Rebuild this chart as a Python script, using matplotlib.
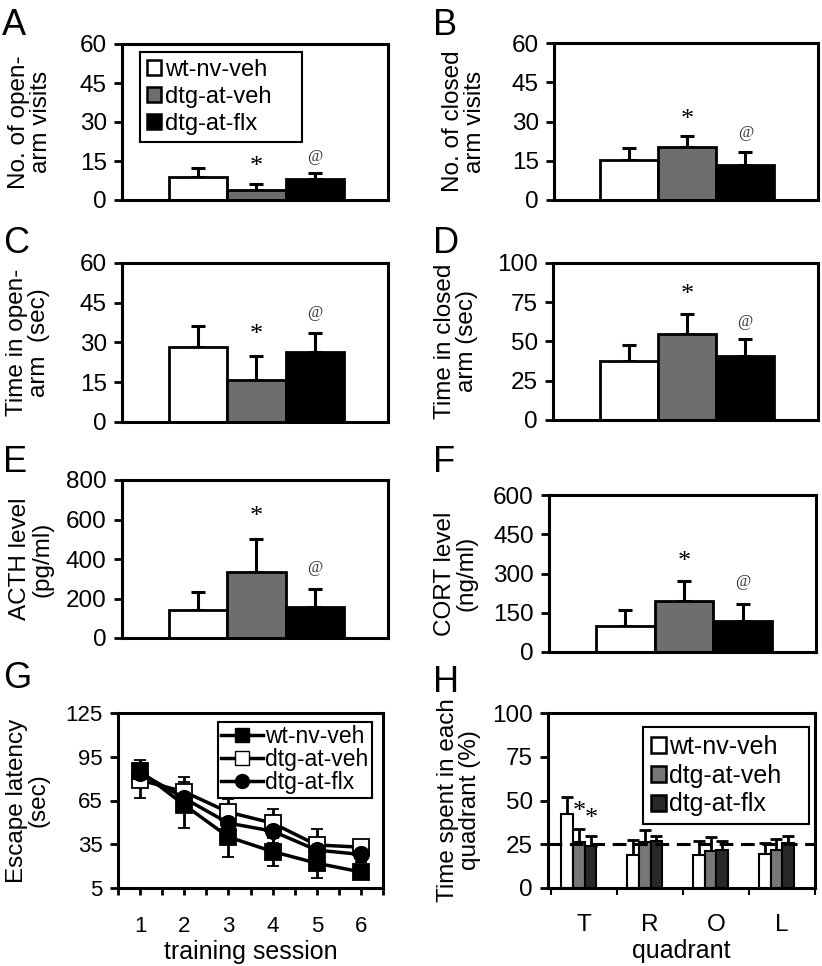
import matplotlib.pyplot as plt
from matplotlib.patches import Patch
from matplotlib.lines import Line2D
import numpy as np

plt.rcParams['font.family'] = ['Liberation Sans', 'DejaVu Sans']

groups = ['wt-nv-veh', 'dtg-at-veh', 'dtg-at-flx']
bar_colors = ['white', '#6e6e6e', 'black']

# A-F: elevated plus maze and hormone levels (mean, upper SEM)
open_visits = [9.0, 3.9, 8.0]
open_visits_err = [3.2, 2.3, 2.4]
closed_visits = [15.1, 20.4, 13.4]
closed_visits_err = [4.7, 4.1, 5.1]
open_time = [28.2, 16.0, 26.3]
open_time_err = [8.0, 8.9, 7.2]
closed_time = [37.7, 54.7, 40.7]
closed_time_err = [10.0, 12.7, 10.6]
acth = [140, 332, 157]
acth_err = [91, 170, 90]
cort = [100, 193, 117]
cort_err = [61, 79, 66]

# G: escape latency per training session
sessions = [1, 2, 3, 4, 5, 6]
lat_wt = [85, 62, 40, 30, 22, 16]
lat_wt_err = [8, 16, 14, 10, 10, 5]
lat_veh = [79, 71, 57, 49.5, 34.5, 33]
lat_veh_err = [12, 10, 9, 10, 11, 5]
lat_flx = [84, 66.5, 49.5, 44, 31, 28]
lat_flx_err = [7, 8, 8, 8, 8, 5]

# H: probe trial, time per quadrant
quadrants = ['T', 'R', 'O', 'L']
quad_wt = [42.5, 19, 19, 19.5]
quad_wt_err = [9.5, 8.5, 8, 6.5]
quad_veh = [26.5, 26.5, 21, 21.5]
quad_veh_err = [7.5, 6.5, 8, 6.5]
quad_flx = [24, 27, 21.5, 25.5]
quad_flx_err = [6, 3, 5.5, 4.5]
chance = 25

W, H = 822, 966
fig = plt.figure(figsize=(W / 100, H / 100), dpi=100)


def rect(x0, x1, y0, y1):
    # pixel box (top y0, bottom y1) -> figure fraction
    return [x0 / W, 1 - y1 / H, (x1 - x0) / W, (y1 - y0) / H]


def style_axes(ax, labelsize=17.5):
    for s in ax.spines.values():
        s.set_linewidth(2.2)
    ax.tick_params(axis='y', direction='out', length=6, width=2,
                   labelsize=labelsize, pad=5)


def boxed_legend(ax, handles, anchor, fontsize, **kw):
    leg = ax.legend(handles=handles, loc='upper left', bbox_to_anchor=anchor,
                    mode='expand', fontsize=fontsize, frameon=True,
                    fancybox=False, edgecolor='black', framealpha=1,
                    borderaxespad=0, **kw)
    leg.get_frame().set_linewidth(1.5)
    return leg


def bar_panel(box, vals, errs, ylim, yticks, ylabel, star_y, at_y, labelx):
    ax = fig.add_axes(rect(*box))
    x = np.arange(3)
    ax.errorbar(x, vals, yerr=[np.zeros(3), errs], fmt='none', ecolor='black',
                elinewidth=2.2, capsize=5, capthick=2.2, zorder=1)
    ax.bar(x, vals, width=1.0, color=bar_colors, edgecolor='black',
           linewidth=2, zorder=2)
    ax.set_xlim(-1.3, 3.25)
    ax.set_ylim(*ylim)
    ax.set_yticks(yticks)
    ax.set_xticks([])
    style_axes(ax)
    ax.set_ylabel(ylabel, fontsize=17.5, linespacing=1.0)
    ax.yaxis.set_label_coords(labelx, 0.5)
    ax.text(1, star_y, '*', family='Liberation Serif', fontsize=19,
            ha='center', va='center')
    ax.text(2, at_y, '@', family='Liberation Serif', fontsize=12,
            ha='center', va='center', color='#333333')
    return ax


axA = bar_panel((122, 388, 44, 200), open_visits, open_visits_err, (0, 60),
                [0, 15, 30, 45, 60], 'No. of open-\narm visits', 12.7, 16.5, -0.263)
boxed_legend(axA, [Patch(facecolor=c, edgecolor='black', linewidth=1.8, label=g)
                   for c, g in zip(bar_colors, groups)],
             (0.068, 0.41, 0.609, 0.54), 17,
             handlelength=0.6, handleheight=0.6, handletextpad=0.15,
             labelspacing=0.22, borderpad=0.3)

bar_panel((554, 818, 43, 200), closed_visits, closed_visits_err, (0, 60),
          [0, 15, 30, 45, 60], 'No. of closed\narm visits', 30.6, 25.6, -0.258)
bar_panel((122, 388, 263, 422), open_time, open_time_err, (0, 60),
          [0, 15, 30, 45, 60], 'Time in open-\narm  (sec)', 32.8, 41, -0.271)
bar_panel((553, 818, 263, 420), closed_time, closed_time_err, (0, 100),
          [0, 25, 50, 75, 100], 'Time in closed\narm (sec)', 79.6, 62.6, -0.283)
bar_panel((122, 388, 480, 638), acth, acth_err, (0, 800),
          [0, 200, 400, 600, 800], 'ACTH level\n(pg/ml)', 614, 354, -0.259)
bar_panel((549, 816, 495, 652), cort, cort_err, (0, 600),
          [0, 150, 300, 450, 600], 'CORT level\n(ng/ml)', 345, 269, -0.266)

# G: line plot
axG = fig.add_axes(rect(118, 383, 713, 888))
series = [(lat_veh, lat_veh_err, 's', 'white'),
          (lat_wt, lat_wt_err, 's', 'black'),
          (lat_flx, lat_flx_err, 'o', 'black')]
for vals, errs, m, fc in series:
    axG.errorbar(sessions, vals, yerr=errs, color='black', lw=2.5, marker=m,
                 markersize=11, markerfacecolor=fc, markeredgecolor='black',
                 markeredgewidth=1.3, ecolor='black', elinewidth=2,
                 capsize=4, capthick=2)
axG.set_xlim(0.5, 6.5)
axG.set_ylim(5, 125)
axG.set_yticks([5, 35, 65, 95, 125])
axG.set_xticks(sessions)
axG.set_xticks(np.arange(0.5, 7, 1.0), minor=True)
style_axes(axG, labelsize=16)
axG.tick_params(axis='x', which='both', direction='out', length=5, width=2,
                labelsize=16, pad=15)
axG.set_xlabel('training session', fontsize=18, labelpad=2)
axG.set_ylabel('Escape latency\n(sec)', fontsize=17.5, linespacing=1.0)
axG.yaxis.set_label_coords(-0.257, 0.5)
g_handles = [Line2D([], [], color='black', lw=2.5, marker='s', markersize=10,
                    markerfacecolor='black', label='wt-nv-veh'),
             Line2D([], [], color='black', lw=2.5, marker='s', markersize=10,
                    markerfacecolor='white', markeredgecolor='black', label='dtg-at-veh'),
             Line2D([], [], color='black', lw=2.5, marker='o', markersize=10,
                    markerfacecolor='black', label='dtg-at-flx')]
boxed_legend(axG, g_handles, (0.377, 0.589, 0.581, 0.36), 16.5,
             handlelength=1.8, handletextpad=0.1, labelspacing=0.0,
             borderpad=0.15)

# H: grouped bars
axH = fig.add_axes(rect(548, 815, 713, 888))
xq = np.arange(len(quadrants)) - 0.085
bw = 0.18
h_colors = ['white', '#777777', '#282828']
h_handles = []
for i, (vals, errs) in enumerate([(quad_wt, quad_wt_err), (quad_veh, quad_veh_err),
                                  (quad_flx, quad_flx_err)]):
    xs = xq + (i - 1) * bw
    axH.errorbar(xs, vals, yerr=[np.zeros(4), errs], fmt='none', ecolor='black',
                 elinewidth=2, capsize=4, capthick=2, zorder=1)
    axH.bar(xs, vals, width=bw, color=h_colors[i], edgecolor='black',
            linewidth=1.5, zorder=2)
    h_handles.append(Patch(facecolor=h_colors[i], edgecolor='black',
                           linewidth=1.8, label=groups[i]))
axH.axhline(chance, color='black', lw=2.2, dashes=(4.5, 2.5), zorder=3)
axH.set_xlim(-0.55, 3.5)
axH.set_ylim(0, 100)
axH.set_yticks([0, 25, 50, 75, 100])
axH.set_xticks(range(4))
axH.set_xticklabels(quadrants)
axH.set_xticks(np.arange(-0.5, 4, 1.0), minor=True)
style_axes(axH)
axH.tick_params(axis='x', which='major', length=0, labelsize=17.5, pad=19)
axH.tick_params(axis='x', which='minor', direction='out', length=5, width=1.5)
axH.set_xlabel('quadrant', fontsize=18, labelpad=2)
axH.set_ylabel('Time spent in each\nquadrant (%)', fontsize=17.5, linespacing=1.0)
axH.yaxis.set_label_coords(-0.251, 0.5)
axH.text(-0.08, 43.6, '*', family='Liberation Serif', fontsize=19, ha='center', va='center')
axH.text(0.1, 39.4, '*', family='Liberation Serif', fontsize=19, ha='center', va='center')
boxed_legend(axH, h_handles, (0.356, 0.417, 0.622, 0.503), 18,
             handlelength=0.6, handleheight=0.6, handletextpad=0.15,
             labelspacing=0.2, borderpad=0.3)

# panel letters
for letter, x, y in [('A', 2, 35), ('B', 433, 35), ('C', 3, 253), ('D', 433, 253),
                     ('E', 3, 472), ('F', 433, 472), ('G', 3, 688), ('H', 433, 692)]:
    fig.text(x / W, 1 - y / H, letter, fontsize=26, va='baseline', ha='left')

fig.savefig('out.png', dpi=100)
